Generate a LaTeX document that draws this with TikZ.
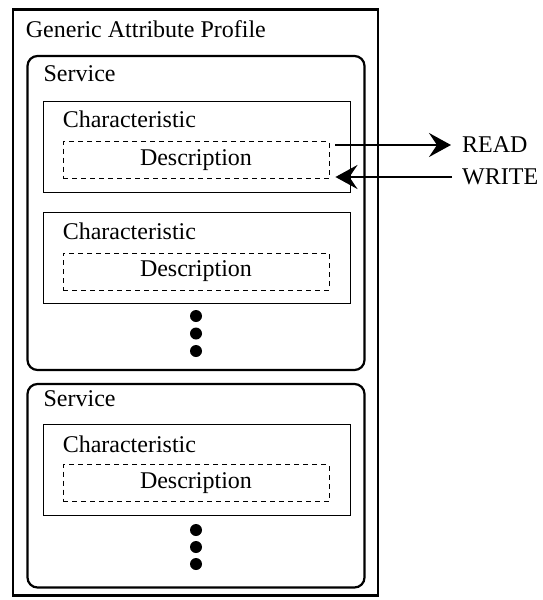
\documentclass[tikz,border=0pt]{standalone}
\usepackage{fontspec}
\setmainfont{Liberation Serif}
\usetikzlibrary{arrows.meta,positioning}
\begin{document}
\begin{tikzpicture}[x=1pt,y=-1pt,font=\fontsize{24}{28}\selectfont,
  profile/.style={draw,line width=2.6pt,minimum width=365pt,minimum height=586pt},
  service/.style={draw,line width=2.2pt,rounded corners=10pt,minimum width=337pt},
  charbox/.style={draw,line width=0.9pt,minimum width=307pt,minimum height=91pt},
  descbox/.style={draw,line width=0.9pt,dash pattern=on 5pt off 4pt,minimum width=266pt,minimum height=37pt,inner sep=0pt},
  title/.style={anchor=base west,inner sep=0pt},
  dot/.style={circle,fill,inner sep=0pt,minimum size=12pt},
  rw/.style={anchor=west,inner sep=0pt},
  flow/.style={-{Stealth[length=22pt,width=24pt,inset=8pt]},line width=2.4pt}]
  \useasboundingbox (0,0) rectangle (542,600);
  \node[profile] (gap) at (195.5,302.5) {};
  \node[title] (gaptitle) at ([shift={(14,29)}]gap.north west) {Generic Attribute Profile};
  % first service
  \node[service,minimum height=314pt] (svc1) at (196,213) {};
  \node[title] (svc1title) at ([shift={(17,27)}]svc1.north west) {Service};
  \node[charbox] (char1) at (196.5,146.5) {};
  \node[title] (char1title) at ([shift={(20,27)}]char1.north west) {Characteristic};
  \node[descbox] (desc1) at (196,160) {Description};
  \node[charbox] (char2) at (196.5,258) {};
  \node[title] (char2title) at ([shift={(20,27)}]char2.north west) {Characteristic};
  \node[descbox] (desc2) at (196,271.5) {Description};
  \node[dot] (dot1a) at (196,316) {};
  \node[dot] (dot1b) at (196,333.5) {};
  \node[dot] (dot1c) at (196,351) {};
  % second service
  \node[service,minimum height=203.5pt] (svc2) at (196,485.75) {};
  \node[title] (svc2title) at ([shift={(17,24)}]svc2.north west) {Service};
  \node[charbox] (char3) at (196.5,470) {};
  \node[title] (char3title) at ([shift={(20,28)}]char3.north west) {Characteristic};
  \node[descbox] (desc3) at (196,483) {Description};
  \node[dot] (dot2a) at (196,530) {};
  \node[dot] (dot2b) at (196,547) {};
  \node[dot] (dot2c) at (196,564) {};
  % read / write
  \node[rw] (read) at (462,145) {READ};
  \node[rw] (write) at (462,177) {WRITE};
  \draw[flow] ([xshift=6pt]desc1.north east |- read.west) -- ([xshift=-11pt]read.west);
  \draw[flow] ([xshift=-10pt]write.west) -- ([xshift=6pt]desc1.south east |- write.west);
\end{tikzpicture}
\end{document}
